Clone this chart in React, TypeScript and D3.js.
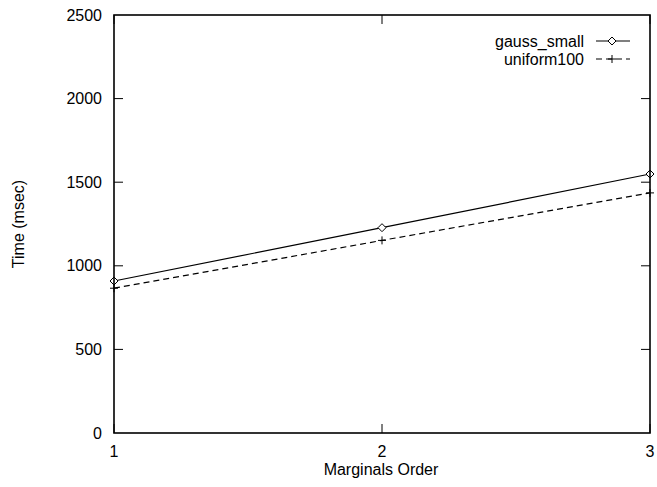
import React from "react";
import * as d3 from "d3";

const orders = [1, 2, 3];
const gaussSmall = [909, 1228, 1549];
const uniform100 = [866, 1152, 1436];
const yTicks = [0, 500, 1000, 1500, 2000, 2500];
const xTicks = [1, 2, 3];
const seriesNames = ["gauss_small", "uniform100"];

const W = 657;
const H = 487;
const M = { left: 114, right: 650, top: 15, bottom: 433 };
const FONT = "'Liberation Sans', Arial, Helvetica, sans-serif";

export default function App() {
  const x = d3.scaleLinear().domain([1, 3]).range([M.left, M.right]);
  const y = d3.scaleLinear().domain([0, 2500]).range([M.bottom, M.top]);
  const line = d3
    .line<number>()
    .x((_, i) => x(orders[i]))
    .y((d) => y(d));
  const tick = 9;

  const diamond = (cx: number, cy: number, key: string) => (
    <path
      key={key}
      d={`M${cx - 4},${cy} L${cx},${cy - 4} L${cx + 4},${cy} L${cx},${cy + 4} Z`}
      fill="white"
      stroke="black"
      strokeWidth={1}
    />
  );
  const plus = (cx: number, cy: number, key: string) => (
    <path
      key={key}
      d={`M${cx - 4},${cy} H${cx + 4} M${cx},${cy - 4} V${cy + 4}`}
      stroke="black"
      strokeWidth={1}
    />
  );

  const legendX = 584;
  const legendRows = [41, 59];

  return (
    <svg
      width={W}
      height={H}
      style={{ position: "absolute", left: 0, top: 0, background: "white" }}
      fontFamily={FONT}
      fontSize={16}
    >
      <rect width={W} height={H} fill="white" />
      {/* y ticks, mirrored on the right border */}
      {yTicks.map((t) => (
        <g key={`y${t}`}>
          {t > 0 && t < 2500 && (
            <>
              <line x1={M.left} x2={M.left + tick} y1={y(t)} y2={y(t)} stroke="black" />
              <line x1={M.right} x2={M.right - tick} y1={y(t)} y2={y(t)} stroke="black" />
            </>
          )}
          <text x={M.left - 12} y={y(t)} dy="0.35em" textAnchor="end">
            {t}
          </text>
        </g>
      ))}
      {/* x ticks, mirrored on the top border */}
      {xTicks.map((t) => (
        <g key={`x${t}`}>
          <line x1={x(t)} x2={x(t)} y1={M.bottom} y2={M.bottom - tick} stroke="black" />
          <line x1={x(t)} x2={x(t)} y1={M.top} y2={M.top + tick} stroke="black" />
          <text x={x(t)} y={M.bottom + 24} textAnchor="middle">
            {t}
          </text>
        </g>
      ))}
      <path d={line(gaussSmall) ?? ""} fill="none" stroke="black" strokeWidth={1.2} />
      <path
        d={line(uniform100) ?? ""}
        fill="none"
        stroke="black"
        strokeWidth={1.2}
        strokeDasharray="6,4"
      />
      {gaussSmall.map((v, i) => diamond(x(orders[i]), y(v), `g${i}`))}
      {uniform100.map((v, i) => plus(x(orders[i]), y(v), `u${i}`))}
      <rect
        x={M.left}
        y={M.top}
        width={M.right - M.left}
        height={M.bottom - M.top}
        fill="none"
        stroke="black"
        strokeWidth={1.6}
      />
      {/* legend */}
      {seriesNames.map((name, i) => (
        <g key={name}>
          <text x={legendX} y={legendRows[i]} dy="0.35em" textAnchor="end">
            {name}
          </text>
          <line
            x1={596}
            x2={630}
            y1={legendRows[i]}
            y2={legendRows[i]}
            stroke="black"
            strokeWidth={1.2}
            strokeDasharray={i === 1 ? "6,4" : undefined}
          />
          {i === 0 ? diamond(612, legendRows[i], "ld") : plus(612, legendRows[i], "lp")}
        </g>
      ))}
      <text x={(M.left + M.right) / 2 - 1} y={M.bottom + 42} textAnchor="middle">
        Marginals Order
      </text>
      <text
        transform={`translate(24,${(M.top + M.bottom) / 2}) rotate(-90)`}
        textAnchor="middle"
      >
        Time (msec)
      </text>
    </svg>
  );
}
